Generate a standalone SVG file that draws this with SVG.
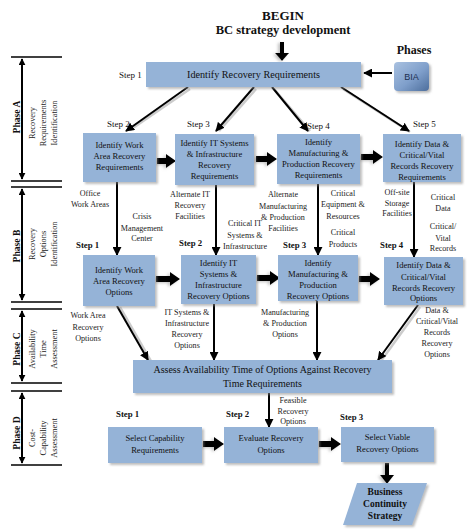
<svg xmlns="http://www.w3.org/2000/svg" width="474" height="531" viewBox="0 0 474 531">
<defs>
<style>
.bx{fill:#95b3d7;filter:url(#sh)}
.t{font-family:"Liberation Serif",serif;font-size:8.6px;fill:#111;text-anchor:middle}
.tl{font-family:"Liberation Serif",serif;font-size:8.1px;fill:#222;text-anchor:middle}
.st{font-family:"Liberation Serif",serif;font-size:9px;fill:#111}
.sb{font-family:"Liberation Serif",serif;font-size:8.8px;font-weight:bold;fill:#111}
.ph{font-family:"Liberation Serif",serif;font-size:9.6px;font-weight:bold;fill:#111;text-anchor:middle}
.ps{font-family:"Liberation Serif",serif;font-size:8.4px;fill:#222;text-anchor:middle}
.ln{stroke:#000;stroke-width:2;fill:none;marker-end:url(#ah)}
.lns{stroke:#aaa;stroke-width:2.5;fill:none;opacity:0.6}
.blk{fill:#000;filter:url(#sh2)}
.pl{stroke:#000;stroke-width:1.5}
.pa{stroke:#000;stroke-width:2;marker-end:url(#ah2);marker-start:url(#ah2s)}
</style>
<filter id="sh" x="-10%" y="-10%" width="130%" height="140%">
<feDropShadow dx="2" dy="2" stdDeviation="1.2" flood-color="#888" flood-opacity="0.55"/>
</filter>
<filter id="sh2" x="-30%" y="-30%" width="160%" height="160%">
<feDropShadow dx="-2" dy="1" stdDeviation="1.5" flood-color="#999" flood-opacity="0.6"/>
</filter>
<marker id="ah" markerUnits="userSpaceOnUse" markerWidth="9" markerHeight="9" viewBox="0 0 10 10" refX="9" refY="5" orient="auto">
<path d="M0,0 L10,5 L0,10 z" fill="#000"/>
</marker>
<marker id="ah2" markerUnits="userSpaceOnUse" markerWidth="7" markerHeight="7" viewBox="0 0 10 10" refX="9" refY="5" orient="auto">
<path d="M0,0 L10,5 L0,10 z" fill="#000"/>
</marker>
<marker id="ah2s" markerUnits="userSpaceOnUse" markerWidth="7" markerHeight="7" viewBox="0 0 10 10" refX="1" refY="5" orient="auto">
<path d="M10,0 L0,5 L10,10 z" fill="#000"/>
</marker>
<linearGradient id="bia" x1="0" y1="0" x2="1" y2="1">
<stop offset="0" stop-color="#a9c1e0"/>
<stop offset="0.55" stop-color="#7f9fcb"/>
<stop offset="1" stop-color="#4d6e9c"/>
</linearGradient>
</defs>
<rect width="474" height="531" fill="#fff"/>

<!-- Phase bars -->
<g id="phases">
<line class="pl" x1="11" y1="57" x2="62" y2="57"/>
<line class="pa" x1="22" y1="59" x2="22" y2="179"/>
<line class="pl" x1="11" y1="181" x2="62" y2="181"/>
<line class="pl" x1="11" y1="187" x2="62" y2="187"/>
<line class="pa" x1="22" y1="189" x2="22" y2="300"/>
<line class="pl" x1="11" y1="302" x2="62" y2="302"/>
<line class="pl" x1="11" y1="309" x2="62" y2="309"/>
<line class="pa" x1="22" y1="311" x2="22" y2="381"/>
<line class="pl" x1="11" y1="383" x2="62" y2="383"/>
<line class="pl" x1="11" y1="391" x2="62" y2="391"/>
<line class="pa" x1="22" y1="393" x2="22" y2="463"/>
<line class="pl" x1="11" y1="465" x2="62" y2="465"/>
<text class="ph" transform="translate(20 117) rotate(-90)">Phase A</text>
<text class="ps" transform="translate(35 123) rotate(-90)">Recovery</text>
<text class="ps" transform="translate(46 123) rotate(-90)">Requirements</text>
<text class="ps" transform="translate(57 123) rotate(-90)">Identification</text>
<text class="ph" transform="translate(20 246) rotate(-90)">Phase B</text>
<text class="ps" transform="translate(35 244) rotate(-90)">Recovery</text>
<text class="ps" transform="translate(46 244) rotate(-90)">Options</text>
<text class="ps" transform="translate(57 244) rotate(-90)">Identification</text>
<text class="ph" transform="translate(20 349) rotate(-90)">Phase C</text>
<text class="ps" transform="translate(35 349) rotate(-90)">Availability</text>
<text class="ps" transform="translate(46 349) rotate(-90)">Time</text>
<text class="ps" transform="translate(57 349) rotate(-90)">Assessment</text>
<text class="ph" transform="translate(20 433) rotate(-90)">Phase D</text>
<text class="ps" transform="translate(35 438) rotate(-90)">Cost-</text>
<text class="ps" transform="translate(46 438) rotate(-90)">Capability</text>
<text class="ps" transform="translate(57 438) rotate(-90)">Assessment</text>
</g>

<!-- Titles -->
<text x="283" y="20" font-family="Liberation Serif, serif" font-size="13" font-weight="bold" text-anchor="middle" fill="#111">BEGIN</text>
<text x="283" y="34" font-family="Liberation Serif, serif" font-size="12.5" font-weight="bold" text-anchor="middle" fill="#111">BC strategy development</text>
<text x="414" y="54" font-family="Liberation Serif, serif" font-size="12" font-weight="bold" text-anchor="middle" fill="#111">Phases</text>

<!-- Step labels -->
<g id="steps">
<text class="st" x="119" y="78">Step 1</text>
<text class="st" x="107" y="127">Step 2</text>
<text class="st" x="187" y="127">Step 3</text>
<text class="st" x="307" y="129">Step 4</text>
<text class="st" x="413" y="127">Step 5</text>
<text class="sb" x="76" y="248">Step 1</text>
<text class="sb" x="179" y="246">Step 2</text>
<text class="sb" x="283" y="248">Step 3</text>
<text class="sb" x="380" y="248">Step 4</text>
<text class="sb" x="116" y="417">Step 1</text>
<text class="sb" x="226" y="417">Step 2</text>
<text class="sb" x="340" y="420">Step 3</text>
</g>

<!-- Connectors -->
<g id="connectors">
<polygon class="blk" points="280,42 284,42 284,53 289,53 282,61 275,53 280,53"/>
<line class="ln" x1="392" y1="73" x2="364" y2="73"/>
<line class="lns" x1="190" y1="89" x2="130" y2="130"/>
<line class="ln" x1="188" y1="87" x2="126" y2="131"/>
<line class="lns" x1="256" y1="89" x2="219" y2="131"/>
<line class="ln" x1="254" y1="87" x2="216" y2="131"/>
<line class="lns" x1="274" y1="89" x2="310" y2="131"/>
<line class="ln" x1="272" y1="87" x2="308" y2="131"/>
<line class="lns" x1="343" y1="89" x2="410" y2="132"/>
<line class="ln" x1="341" y1="87" x2="409" y2="131"/>
<polygon class="blk" points="157,158 166,158 166,154 176,161 166,168 166,164 157,164"/>
<polygon class="blk" points="256,156 267,156 267,152 277,159 267,166 267,162 256,162"/>
<polygon class="blk" points="361,154 373,154 373,150 383,157 373,164 373,160 361,160"/>
<line class="ln" x1="117" y1="182" x2="117" y2="255"/>
<line class="ln" x1="216" y1="185" x2="216" y2="255"/>
<line class="ln" x1="318" y1="184" x2="318" y2="255"/>
<line class="ln" x1="414" y1="182" x2="414" y2="257"/>
<polygon class="blk" points="156,276 170,276 170,272 180,279 170,286 170,282 156,282"/>
<polygon class="blk" points="257,275 270,275 270,271 280,278 270,285 270,281 257,281"/>
<polygon class="blk" points="359,276 370,276 370,272 380,279 370,286 370,282 359,282"/>
<line class="lns" x1="120" y1="307" x2="151" y2="361"/>
<line class="ln" x1="117" y1="306" x2="148" y2="360"/>
<line class="ln" x1="214" y1="304" x2="214" y2="360"/>
<line class="ln" x1="317" y1="301" x2="317" y2="360"/>
<line class="lns" x1="420" y1="307" x2="381" y2="361"/>
<line class="ln" x1="418" y1="305" x2="378" y2="360"/>
<line class="ln" x1="269" y1="393" x2="269" y2="427"/>
<polygon class="blk" points="203,441 214,441 214,437 224,444 214,451 214,447 203,447"/>
<polygon class="blk" points="319,441 331,441 331,437 341,444 331,451 331,447 319,447"/>
<polygon class="blk" points="385,463 389,463 389,475 394,475 387,484 380,475 385,475"/>
</g>

<!-- Nodes -->
<g id="bia">
<rect x="394" y="62" width="35" height="29" rx="4" fill="url(#bia)" filter="url(#sh)"/>
<text x="411.5" y="80" font-family="Liberation Sans, sans-serif" font-size="9" text-anchor="middle" fill="#1c2f4f">BIA</text>
</g>
<g id="n-step1">
<rect class="bx" x="146" y="62" width="215" height="25"/>
<text class="t" x="253.5" y="78" style="font-size:10.2px">Identify Recovery Requirements</text>
</g>

<g id="r2-1">
<rect class="bx" x="83" y="133" width="73" height="49"/>
<text class="t" x="119.5" y="148">Identify Work</text>
<text class="t" x="119.5" y="159">Area Recovery</text>
<text class="t" x="119.5" y="170">Requirements</text>
</g>
<g id="r2-2">
<rect class="bx" x="175" y="134" width="79" height="51"/>
<text class="t" x="214.5" y="146">Identify IT Systems</text>
<text class="t" x="214.5" y="157">&amp; Infrastructure</text>
<text class="t" x="214.5" y="168">Recovery</text>
<text class="t" x="214.5" y="179">Requirements</text>
</g>
<g id="r2-3">
<rect class="bx" x="277" y="134" width="83" height="50"/>
<text class="t" x="318.5" y="145">Identify</text>
<text class="t" x="318.5" y="156">Manufacturing &amp;</text>
<text class="t" x="318.5" y="167">Production Recovery</text>
<text class="t" x="318.5" y="178">Requirements</text>
</g>
<g id="r2-4">
<rect class="bx" x="383" y="134" width="78" height="48"/>
<text class="t" x="422" y="147">Identify Data &amp;</text>
<text class="t" x="422" y="158">Critical/Vital</text>
<text class="t" x="422" y="169">Records Recovery</text>
<text class="t" x="422" y="180">Requirements</text>
</g>

<g id="labels-b">
<text class="tl" x="90" y="196">Office</text>
<text class="tl" x="90" y="207">Work Areas</text>
<text class="tl" x="142" y="219">Crisis</text>
<text class="tl" x="142" y="231">Management</text>
<text class="tl" x="142" y="241">Center</text>
<text class="tl" x="190" y="197">Alternate IT</text>
<text class="tl" x="190" y="208">Recovery</text>
<text class="tl" x="190" y="219">Facilities</text>
<text class="tl" x="245" y="226">Critical IT</text>
<text class="tl" x="245" y="238">Systems &amp;</text>
<text class="tl" x="245" y="249">Infrastructure</text>
<text class="tl" x="283" y="197">Alternate</text>
<text class="tl" x="283" y="209">Manufacturing</text>
<text class="tl" x="283" y="220">&amp; Production</text>
<text class="tl" x="283" y="231">Facilities</text>
<text class="tl" x="343" y="196">Critical</text>
<text class="tl" x="343" y="207">Equipment &amp;</text>
<text class="tl" x="343" y="219">Resources</text>
<text class="tl" x="343" y="235">Critical</text>
<text class="tl" x="343" y="247">Products</text>
<text class="tl" x="397" y="195">Off-site</text>
<text class="tl" x="397" y="206">Storage</text>
<text class="tl" x="397" y="216">Facilities</text>
<text class="tl" x="443" y="200">Critical</text>
<text class="tl" x="443" y="211">Data</text>
<text class="tl" x="443" y="229">Critical/</text>
<text class="tl" x="443" y="241">Vital</text>
<text class="tl" x="443" y="251">Records</text>
</g>

<g id="r3-1">
<rect class="bx" x="83" y="255" width="72" height="51"/>
<text class="t" x="119" y="273">Identify Work</text>
<text class="t" x="119" y="284">Area Recovery</text>
<text class="t" x="119" y="295">Options</text>
</g>
<g id="r3-2">
<rect class="bx" x="181" y="255" width="75" height="49"/>
<text class="t" x="218.5" y="266">Identify IT</text>
<text class="t" x="218.5" y="277">Systems &amp;</text>
<text class="t" x="218.5" y="288">Infrastructure</text>
<text class="t" x="218.5" y="299">Recovery Options</text>
</g>
<g id="r3-3">
<rect class="bx" x="278" y="255" width="80" height="46"/>
<text class="t" x="318" y="266">Identify</text>
<text class="t" x="318" y="277">Manufacturing &amp;</text>
<text class="t" x="318" y="288">Production</text>
<text class="t" x="318" y="299">Recovery Options</text>
</g>
<g id="r3-4">
<rect class="bx" x="384" y="257" width="79" height="48"/>
<text class="t" x="423.5" y="268">Identify Data &amp;</text>
<text class="t" x="423.5" y="280">Critical/Vital</text>
<text class="t" x="423.5" y="291">Records Recovery</text>
<text class="t" x="423.5" y="301">Options</text>
</g>

<g id="labels-c">
<text class="tl" x="88" y="318">Work Area</text>
<text class="tl" x="88" y="330">Recovery</text>
<text class="tl" x="88" y="341">Options</text>
<text class="tl" x="187" y="315">IT Systems &amp;</text>
<text class="tl" x="187" y="326">Infrastructure</text>
<text class="tl" x="187" y="337">Recovery</text>
<text class="tl" x="187" y="348">Options</text>
<text class="tl" x="285" y="315">Manufacturing</text>
<text class="tl" x="285" y="326">&amp; Production</text>
<text class="tl" x="285" y="337">Options</text>
<text class="tl" x="437" y="313">Data &amp;</text>
<text class="tl" x="437" y="324">Critical/Vital</text>
<text class="tl" x="437" y="335">Records</text>
<text class="tl" x="437" y="346">Recovery</text>
<text class="tl" x="437" y="357">Options</text>
<text class="tl" x="293" y="403">Feasible</text>
<text class="tl" x="293" y="414">Recovery</text>
<text class="tl" x="293" y="424">Options</text>
</g>

<g id="assess">
<rect class="bx" x="133" y="360" width="259" height="33"/>
<text class="t" x="262.5" y="373" style="font-size:10px">Assess Availability Time of Options Against Recovery</text>
<text class="t" x="262.5" y="387" style="font-size:10px">Time Requirements</text>
</g>

<g id="r4-1">
<rect class="bx" x="108" y="427" width="94" height="36"/>
<text class="t" x="155" y="441">Select Capability</text>
<text class="t" x="155" y="453">Requirements</text>
</g>
<g id="r4-2">
<rect class="bx" x="224" y="427" width="94" height="36"/>
<text class="t" x="271" y="441">Evaluate Recovery</text>
<text class="t" x="271" y="453">Options</text>
</g>
<g id="r4-3">
<rect class="bx" x="341" y="427" width="93" height="35"/>
<text class="t" x="387.5" y="440">Select Viable</text>
<text class="t" x="387.5" y="452">Recovery Options</text>
</g>
<g id="bcs">
<polygon class="bx" points="357,483 427,483 412,525 343,525"/>
<text class="t" x="385" y="495" style="font-weight:bold;font-size:9.5px">Business</text>
<text class="t" x="385" y="507" style="font-weight:bold;font-size:9.5px">Continuity</text>
<text class="t" x="385" y="519" style="font-weight:bold;font-size:9.5px">Strategy</text>
</g>
</svg>
